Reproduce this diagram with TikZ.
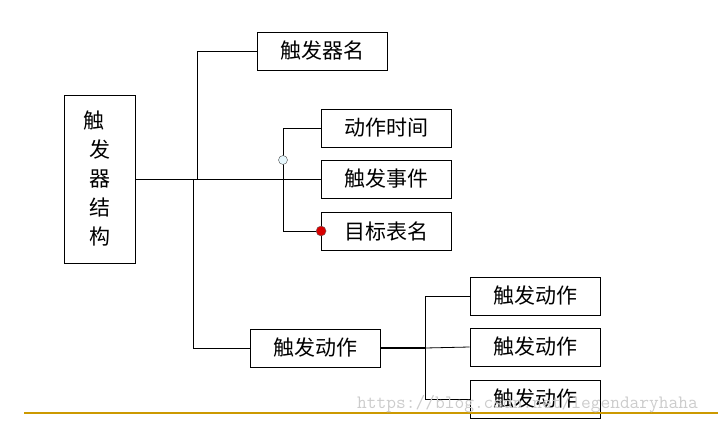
\documentclass[tikz,border=0pt]{standalone}
\usepackage{fontspec}
\newfontfamily\cjk{Noto Sans CJK SC}
\usetikzlibrary{positioning}

\begin{document}
\begin{tikzpicture}[
    x=1pt, y=-1pt,
    box/.style={draw, line width=0.8pt, minimum width=130pt, minimum height=38pt, inner sep=0pt, font=\cjk\fontsize{21}{25}\selectfont},
    link/.style={line width=0.8pt},
    hollow/.style={circle, draw=black!70, fill=cyan!10, minimum size=9pt, inner sep=0pt},
    reddot/.style={circle, draw=black!60, fill=red!85!black, minimum size=10pt, inner sep=0pt}
]
\useasboundingbox (0,0) rectangle (718,424);

% Struttura
\node[draw, line width=0.8pt, minimum width=71pt, minimum height=168pt, align=center,
      font=\cjk\fontsize{21}{29}\selectfont] (struct) at (99.5,179)
      {\hspace*{-12pt}触\\发\\器\\结\\构};

% Rami principali
\node[box] (name)   at (322,51)  {触发器名};
\node[box] (time)   at (386.5,128) {动作时间};
\node[box] (event)  at (386.5,179) {触发事件};
\node[box] (target) at (386.5,231) {目标表名};
\node[box] (act)    at (315.5,348) {触发动作};

% Azioni
\node[box] (act1) at (535,296) {触发动作};
\node[box] (act2) at (535,347) {触发动作};
\node[box] (act3) at (535,399) {触发动作};

% Giunzioni
\coordinate (up)   at (197,179);
\coordinate (down) at (193,179);
\coordinate (mid)  at (283,128);
\coordinate (fork) at (425,348);

% Collegamenti
\draw[link] (struct.east) -- (event.west);
\draw[link] (up) |- (name.west);
\draw[link] (down) |- (act.west);
\draw[link] (time.west) -- (mid) |- (target.west);
\draw[line width=1.6pt] (act.east) -- (fork);
\draw[link] (fork) |- (act1.west);
\draw[link] (fork) -- (act2.west);
\draw[link] (fork) |- (act3.west);

\node[hollow] (ring) at (283,160) {};
\node[reddot] (dot) at (target.west) {};

% Linea di base
\draw[line width=2pt, color={rgb,255:red,204;green,153;blue,0}] (24,413) -- (718,413);

% Filigrana
\node[text=black!20, font=\ttfamily\fontsize{18.9}{20}\selectfont, anchor=west, inner sep=0pt] (mark) at (357,404)
      {https://blog.csdn.net/legendaryhaha};

\end{tikzpicture}
\end{document}
